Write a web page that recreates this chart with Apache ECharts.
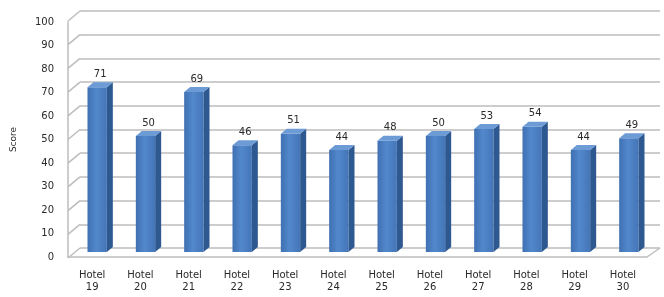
<!DOCTYPE html>
<html style="height: 100%">
<head>
<meta charset="utf-8">
</head>
<body style="height: 100%; margin: 0; background: #fff">
<div id="container" style="width: 664px; height: 297px"></div>
<script src="https://cdn.jsdelivr.net/npm/echarts@6/dist/echarts.min.js"></script>
<script type="text/javascript">
var hotels = ['Hotel\n19', 'Hotel\n20', 'Hotel\n21', 'Hotel\n22', 'Hotel\n23', 'Hotel\n24',
              'Hotel\n25', 'Hotel\n26', 'Hotel\n27', 'Hotel\n28', 'Hotel\n29', 'Hotel\n30'];
var scores = [71, 50, 69, 46, 51, 44, 48, 50, 53, 54, 44, 49];
var ticks = [0, 10, 20, 30, 40, 50, 60, 70, 80, 90, 100];

var chart = echarts.init(document.getElementById('container'));
var lineCol = '#bdbdbd';
var txtCol = '#2a2a2a';
var font = 'DejaVu Sans';

// walls: left slant segments for each gridline, plus right floor corner
function renderWall(params, api) {
    var cs = params.coordSys;
    var v = api.value(1);
    var y = api.coord([0, v])[1];
    var kids = [{
        type: 'line',
        shape: { x1: cs.x, y1: y, x2: cs.x - 12, y2: y + 10 },
        style: { stroke: lineCol, lineWidth: 1.5 }
    }];
    if (v === 0) {
        kids.push({
            type: 'line',
            shape: { x1: cs.x + cs.width, y1: y, x2: cs.x + cs.width - 13, y2: y + 9 },
            style: { stroke: lineCol, lineWidth: 1.5 }
        });
    }
    return { type: 'group', children: kids };
}

function renderBar(params, api) {
    var idx = api.value(0);
    var val = api.value(1);
    var top = api.coord([idx, val]);
    var base = api.coord([idx, 0]);
    var band = api.size([1, 0])[0];
    var w = band * 0.4, dx = 6, dy = 5;
    var x0 = top[0] - (w + dx) / 2, x1 = x0 + w;
    var yt = top[1], yb = base[1];
    return {
        type: 'group',
        children: [{
            type: 'rect',
            shape: { x: x0, y: yt, width: w, height: yb - yt },
            style: {
                fill: new echarts.graphic.LinearGradient(0, 0, 1, 0, [
                    { offset: 0, color: '#3f70b2' },
                    { offset: 0.45, color: '#5288cc' },
                    { offset: 1, color: '#4476b8' }
                ])
            }
        }, {
            type: 'polygon',
            shape: { points: [[x1, yt], [x1 + dx, yt - dy], [x1 + dx, yb - dy], [x1, yb]] },
            style: { fill: '#2e5890' }
        }, {
            type: 'polygon',
            shape: { points: [[x0, yt], [x0 + dx, yt - dy], [x1 + dx, yt - dy], [x1, yt]] },
            style: { fill: '#6c9bd6' }
        }, {
            type: 'text',
            style: {
                text: String(val), x: top[0], y: yt - dy - 3,
                align: 'center', verticalAlign: 'bottom',
                fill: txtCol, font: '10px "' + font + '"'
            }
        }]
    };
}

var option = {
    animation: false,
    backgroundColor: '#fff',
    grid: [
        { left: 80, right: 4, top: 11, bottom: 49 },
        { left: 68, right: 17, top: 22, bottom: 40 },
        { left: 76, right: 8, top: 20, bottom: 45 }
    ],
    xAxis: [
        { type: 'category', gridIndex: 0, data: hotels, show: false },
        {
            type: 'category', gridIndex: 1, data: hotels,
            axisLine: { lineStyle: { color: lineCol, width: 1.5 } },
            axisTick: { show: false },
            axisLabel: { color: txtCol, fontFamily: font, fontSize: 10, lineHeight: 12, margin: 12, interval: 0 }
        },
        { type: 'category', gridIndex: 2, data: hotels, show: false }
    ],
    yAxis: [
        {
            type: 'value', gridIndex: 0, min: 0, max: 100, interval: 10,
            axisLine: { show: false }, axisTick: { show: false }, axisLabel: { show: false },
            splitLine: { lineStyle: { color: lineCol, width: 1.6 } }
        },
        {
            type: 'value', gridIndex: 1, min: 0, max: 100, interval: 10,
            name: 'Score', nameLocation: 'middle', nameGap: 50, nameRotate: 90,
            nameTextStyle: { color: txtCol, fontFamily: font, fontSize: 9 },
            axisLine: { show: true, lineStyle: { color: lineCol, width: 1.5 } },
            axisTick: { show: false },
            axisLabel: { color: txtCol, fontFamily: font, fontSize: 10, margin: 14 },
            splitLine: { show: false }
        },
        { type: 'value', gridIndex: 2, min: 0, max: 100, show: false, splitLine: { show: false } }
    ],
    series: [{
        type: 'custom', xAxisIndex: 0, yAxisIndex: 0, silent: true,
        renderItem: renderWall,
        data: ticks.map(function (t) { return [0, t]; })
    }, {
        type: 'custom', xAxisIndex: 2, yAxisIndex: 2, z: 3,
        renderItem: renderBar,
        data: scores.map(function (s, i) { return [i, s]; })
    }]
};
chart.setOption(option);
</script>
</body>
</html>
